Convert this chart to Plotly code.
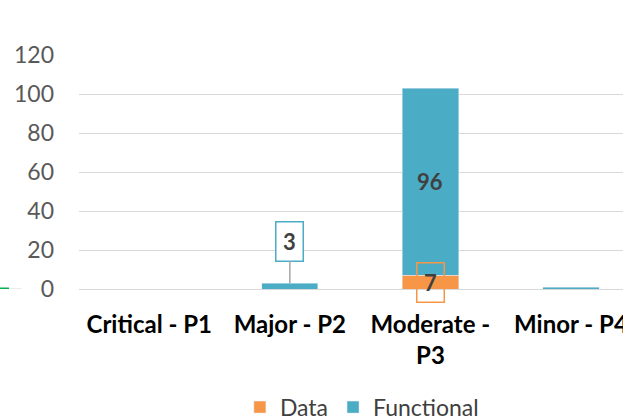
import plotly.graph_objects as go

categories = ["Critical - P1", "Major - P2", "Moderate -<br>P3", "Minor - P4"]
data_vals = [0, 0, 7, 0]
functional_vals = [0, 3, 96, 1]
y_ticks = [0, 20, 40, 60, 80, 100, 120]

ORANGE = "#F79646"
BLUE = "#4BACC6"
FONT = "Lato"

fig = go.Figure()
fig.add_bar(x=categories, y=data_vals, name="Data", marker_color=ORANGE, width=0.4)
fig.add_bar(x=categories, y=functional_vals, name="Functional", marker_color=BLUE, width=0.4)

W, H = 623, 419
ml, mr, mt, mb = 79, 0, 55, 130
pw = W - ml - mr

fig.update_layout(
    barmode="stack",
    width=W, height=H,
    margin=dict(l=ml, r=mr, t=mt, b=mb, autoexpand=False),
    plot_bgcolor="white", paper_bgcolor="white",
    font=dict(family=FONT, size=23, color="#595959"),
    showlegend=True,
    legend=dict(orientation="h", x=0.52, xanchor="center", y=-0.505, yanchor="middle",
                font=dict(size=23, color="#404040"), itemwidth=30, traceorder="normal"),
)
fig.update_xaxes(
    range=[-0.5, 3.37], showgrid=False, showline=False, ticks="", automargin=False,
    tickfont=dict(family=FONT, size=24, color="#000000", weight="bold"),
    ticklabelstandoff=19, fixedrange=True,
)
fig.update_yaxes(
    range=[0, 120], tickvals=y_ticks, showgrid=True, gridcolor="#D9D9D9", gridwidth=1,
    zeroline=True, zerolinecolor="#D9D9D9", zerolinewidth=1, automargin=False,
    tickfont=dict(family=FONT, size=23, color="#595959"), ticks="", ticklabelstandoff=24,
)

# value labels
fig.add_annotation(x=categories[2], y=data_vals[2] + functional_vals[2] / 2, text="<b>96</b>",
                   showarrow=False, font=dict(size=22, color="#404040"))
fig.add_annotation(x=categories[1], y=functional_vals[1], text="<b>3</b>",
                   showarrow=True, arrowhead=0, arrowcolor="#A6A6A6", arrowwidth=1.5,
                   ax=0, ay=-42, bordercolor=BLUE, borderwidth=1.5, borderpad=0,
                   width=26, height=38,
                   bgcolor="white", font=dict(size=22, color="#404040"))
fig.add_annotation(x=categories[2], y=data_vals[2] / 2 - 0.4, text="<b>7</b>",
                   showarrow=False, bordercolor=ORANGE, borderwidth=1.5, borderpad=0,
                   width=26, height=38,
                   font=dict(size=22, color="#404040"))

# fragment of neighbouring chart at left edge
fig.add_shape(type="line", xref="paper", yref="y", x0=(0 - ml) / pw, x1=(22 - ml) / pw,
              y0=0, y1=0, line=dict(color="#D9D9D9", width=1))
fig.add_shape(type="line", xref="paper", yref="y", x0=(0 - ml) / pw, x1=(9 - ml) / pw,
              y0=0, y1=0, line=dict(color="#00B050", width=3))

fig.write_html("out.html", config={"displayModeBar": False},
               post_script="document.body.style.margin='0';")
